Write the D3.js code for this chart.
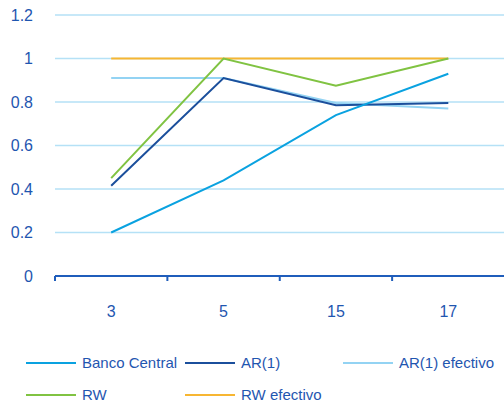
<!DOCTYPE html>
<html>
<head>
<meta charset="utf-8">
<script src="https://cdn.jsdelivr.net/npm/d3@7"></script>
<style>
  html, body { margin: 0; padding: 0; background: #ffffff; }
  svg { display: block; font-family: "Liberation Sans", Arial, sans-serif; }
</style>
</head>
<body>
<svg id="chart" width="504" height="410"></svg>
<script>
// Horizons on the x axis
const categories = ["3", "5", "15", "17"];

// Series values per horizon
const bancoCentral = [0.20, 0.44, 0.74, 0.93];
const ar1 = [0.415, 0.91, 0.785, 0.795];
const ar1Efectivo = [0.91, 0.91, 0.795, 0.77];
const rw = [0.45, 1.0, 0.875, 1.0];
const rwEfectivo = [1.0, 1.0, 1.0, 1.0];

const yTicks = [0, 0.2, 0.4, 0.6, 0.8, 1, 1.2];
const yTickLabels = ["0", "0.2", "0.4", "0.6", "0.8", "1", "1.2"];

const series = [
  { name: "Banco Central", values: bancoCentral, color: "#0aa2e0" },
  { name: "AR(1)", values: ar1, color: "#1b4f9c" },
  { name: "AR(1) efectivo", values: ar1Efectivo, color: "#93d3f3" },
  { name: "RW", values: rw, color: "#80c342" },
  { name: "RW efectivo", values: rwEfectivo, color: "#f7b632" }
];

const svg = d3.select("#chart");
const plotLeft = 55, plotRight = 504, plotTop = 15, plotBottom = 276;

const x = d3.scaleBand().domain(categories).range([plotLeft, plotRight + 0.5]);
const y = d3.scaleLinear().domain([0, 1.2]).range([plotBottom, plotTop]);

// Horizontal gridlines
svg.append("g")
  .selectAll("line")
  .data(yTicks.filter(d => d > 0))
  .join("line")
  .attr("x1", plotLeft).attr("x2", plotRight)
  .attr("y1", d => y(d)).attr("y2", d => y(d))
  .attr("stroke", "#b5e1f6").attr("stroke-width", 1.5);

// Y tick labels
svg.append("g")
  .selectAll("text")
  .data(yTicks)
  .join("text")
  .attr("x", 33)
  .attr("y", d => y(d))
  .attr("dy", "0.36em")
  .attr("text-anchor", "end")
  .attr("font-size", 16)
  .attr("fill", "#1f56b0")
  .text((d, i) => yTickLabels[i]);

// X axis with ticks at band boundaries
const xAxis = svg.append("g").attr("transform", `translate(0,${plotBottom})`);
xAxis.append("line")
  .attr("x1", plotLeft).attr("x2", plotRight)
  .attr("stroke", "#1f5dbb").attr("stroke-width", 2);
xAxis.selectAll("line.tick")
  .data(categories)
  .join("line")
  .attr("class", "tick")
  .attr("x1", d => x(d)).attr("x2", d => x(d))
  .attr("y1", 0).attr("y2", 5)
  .attr("stroke", "#1f5dbb").attr("stroke-width", 2);
xAxis.selectAll("text")
  .data(categories)
  .join("text")
  .attr("x", d => x(d) + x.bandwidth() / 2)
  .attr("y", 41)
  .attr("text-anchor", "middle")
  .attr("font-size", 16)
  .attr("fill", "#1f56b0")
  .text(d => d);

// Series lines
const line = d3.line()
  .x((d, i) => x(categories[i]) + x.bandwidth() / 2)
  .y(d => y(d));

const drawOrder = [4, 2, 3, 1, 0];
svg.append("g")
  .selectAll("path")
  .data(drawOrder.map(i => series[i]))
  .join("path")
  .attr("d", d => line(d.values))
  .attr("fill", "none")
  .attr("stroke", d => d.color)
  .attr("stroke-width", 2);

// Legend
const legendPos = [
  { x: 26, y: 363 }, { x: 185, y: 363 }, { x: 343, y: 363 },
  { x: 26, y: 395 }, { x: 185, y: 395 }
];
const legend = svg.append("g")
  .selectAll("g")
  .data(series)
  .join("g")
  .attr("transform", (d, i) => `translate(${legendPos[i].x},${legendPos[i].y})`);
legend.append("line")
  .attr("x1", 0).attr("x2", 50)
  .attr("stroke", d => d.color).attr("stroke-width", 2);
legend.append("text")
  .attr("x", 56)
  .attr("y", 0)
  .attr("dy", "0.36em")
  .attr("font-size", 15)
  .attr("fill", "#1f56b0")
  .text(d => d.name);
</script>
</body>
</html>
